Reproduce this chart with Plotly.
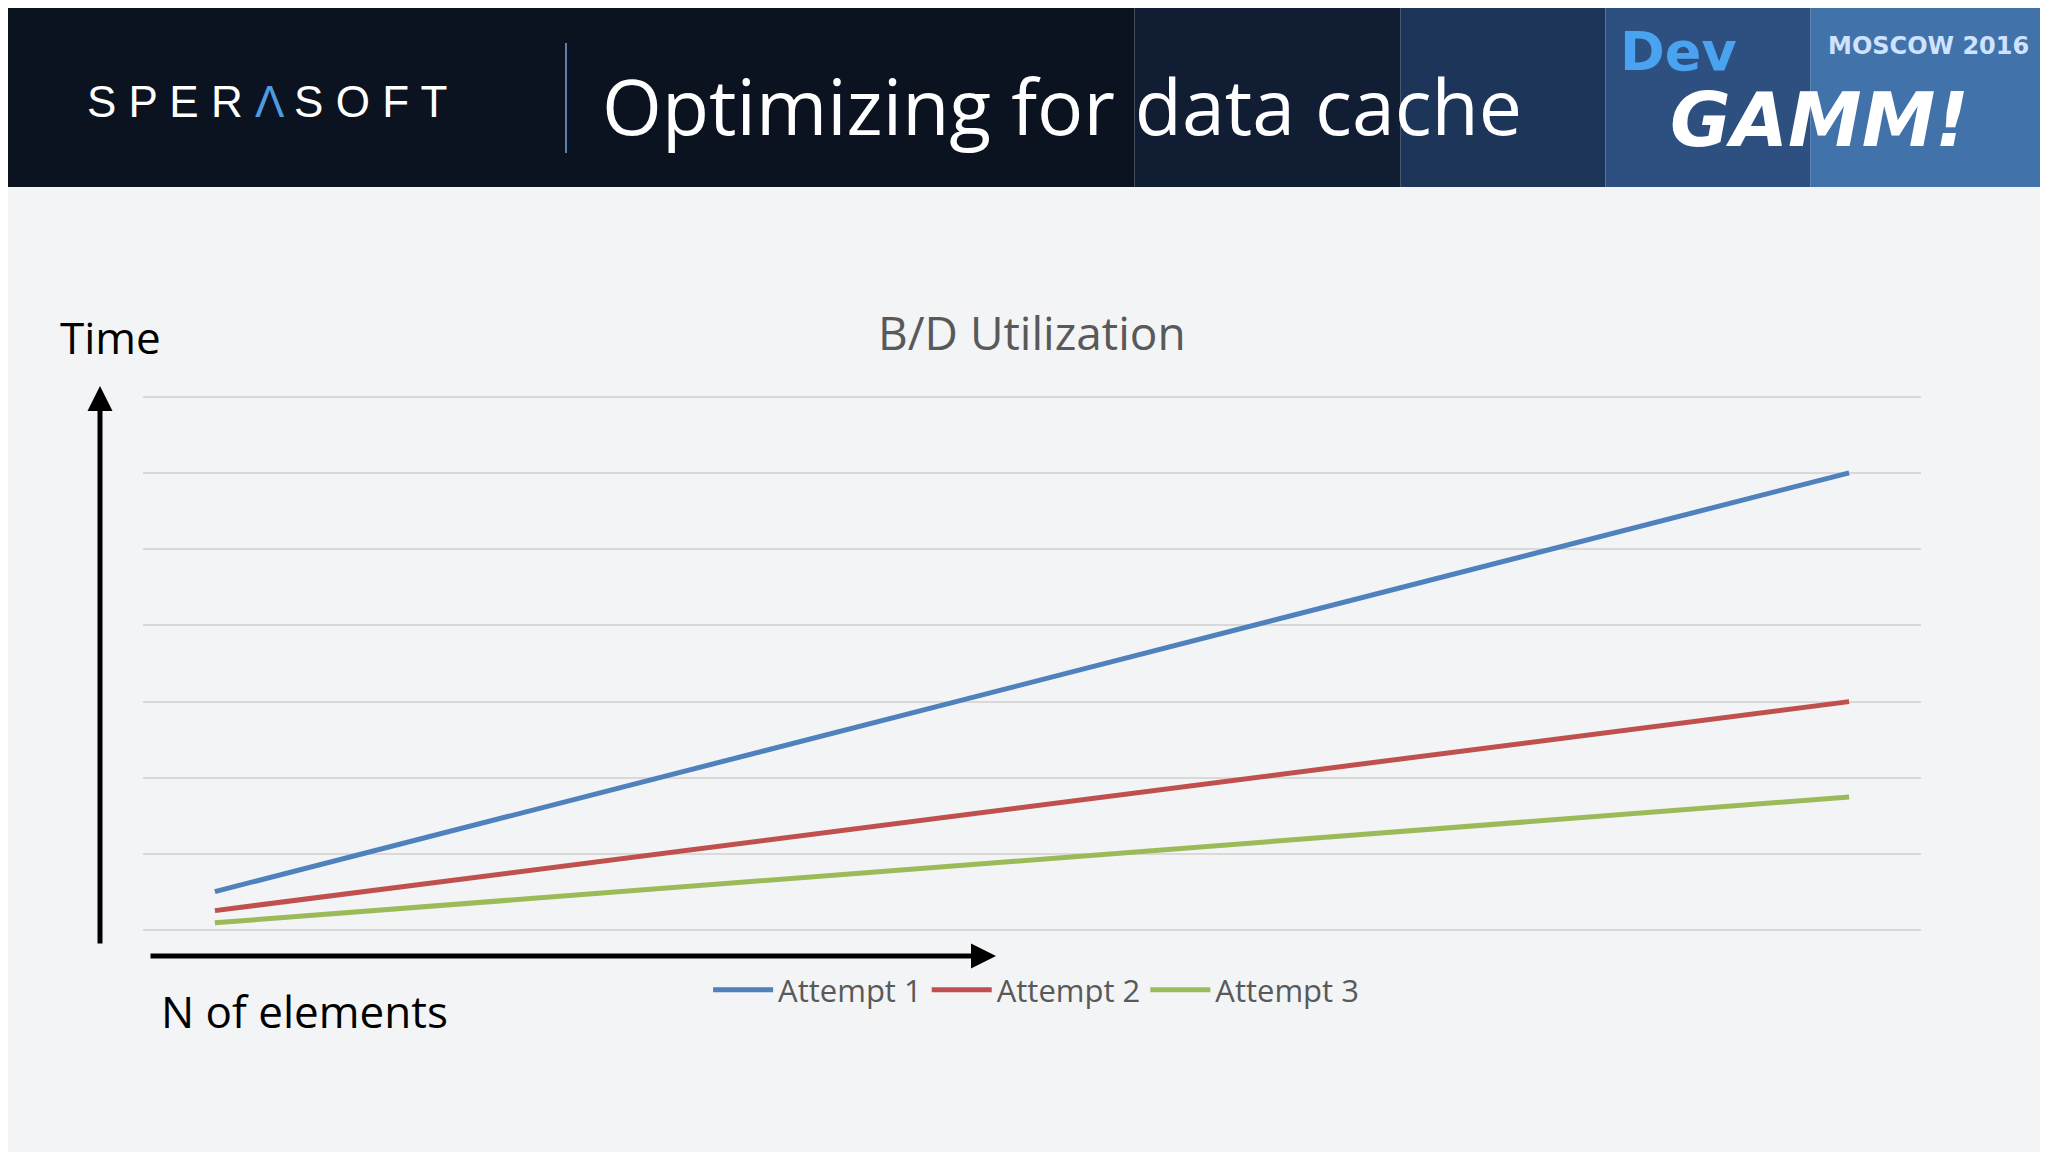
import plotly.graph_objects as go

# data (two endpoints per attempt, arbitrary units)
n_elements = [0, 1]
attempt_1 = [0.51, 6.0]
attempt_2 = [0.26, 3.0]
attempt_3 = [0.10, 1.75]
series_names = ["Attempt 1", "Attempt 2", "Attempt 3"]
series_colors = ["#4f81bd", "#c0504d", "#9bbb59"]

W, H = 2048, 1152


def px(x, y):
    # canvas pixel -> paper coords (margins are zero)
    return x / W, 1 - y / H


fig = go.Figure()
for name, vals, col in zip(series_names, [attempt_1, attempt_2, attempt_3], series_colors):
    fig.add_trace(go.Scatter(x=n_elements, y=vals, name=name, mode="lines",
                             line=dict(color=col, width=5)))

# header band, stepped dark navy -> blue
band = [("#0b1220", 0, 0.55), ("#111d33", 0.55, 0.68), ("#1d3558", 0.68, 0.78),
        ("#2d5080", 0.78, 0.88), ("#4272aa", 0.88, 1)]
shapes = [dict(type="rect", xref="paper", yref="paper", x0=a, x1=b, y0=px(0, 179)[1], y1=1,
               fillcolor=c, line_width=0, layer="below") for c, a, b in band]
shapes.append(dict(type="line", xref="paper", yref="paper", x0=px(558, 0)[0], x1=px(558, 0)[0],
                   y0=px(0, 35)[1], y1=px(0, 145)[1], line=dict(color="#5a7fa8", width=2)))

annotations = [
    dict(x=px(77, 0)[0], y=px(0, 94)[1], text="S P E R <span style='color:#4f9be0'>Λ</span> S O F T",
         font=dict(size=44, color="white", family="Liberation Sans"), xanchor="left"),
    dict(x=px(592, 0)[0], y=px(0, 98)[1], text="Optimizing for data cache",
         font=dict(size=77, color="white", family="Open Sans"), xanchor="left"),
    dict(x=px(1610, 0)[0], y=px(0, 44)[1], text="<b>Dev</b>",
         font=dict(size=54, color="#4aa3f0", family="DejaVu Sans"), xanchor="left"),
    dict(x=px(1818, 0)[0], y=px(0, 38)[1], text="<b>MOSCOW 2016</b>",
         font=dict(size=24, color="#cfe3ff", family="DejaVu Sans"), xanchor="left"),
    dict(x=px(1660, 0)[0], y=px(0, 112)[1], text="<b><i>GAMM!</i></b>",
         font=dict(size=74, color="white", family="DejaVu Sans"), xanchor="left"),
    dict(x=px(50, 0)[0], y=px(0, 329)[1], text="Time",
         font=dict(size=44, color="black", family="Open Sans"), xanchor="left"),
    dict(x=px(151, 0)[0], y=px(0, 1003)[1], text="N of elements",
         font=dict(size=44, color="black", family="Open Sans"), xanchor="left"),
    dict(x=px(1024, 0)[0], y=px(0, 324)[1], text="B/D Utilization",
         font=dict(size=46, color="#595959", family="Open Sans"), xanchor="center"),
    # arrows
    dict(x=px(92, 0)[0], y=px(0, 378)[1], ax=0, ay=559, text="", showarrow=True,
         arrowhead=2, arrowsize=1, arrowwidth=5, arrowcolor="black"),
    dict(x=px(988, 0)[0], y=px(0, 948)[1], ax=-847, ay=0, text="", showarrow=True,
         arrowhead=2, arrowsize=1, arrowwidth=5, arrowcolor="black"),
]
for a in annotations:
    a.setdefault("xref", "paper")
    a.setdefault("yref", "paper")
    a.setdefault("showarrow", False)
    a.setdefault("yanchor", "middle")

fig.update_layout(
    width=W, height=H,
    margin=dict(l=0, r=0, t=0, b=0),
    paper_bgcolor="#f3f4f6", plot_bgcolor="rgba(0,0,0,0)",
    shapes=shapes, annotations=annotations,
    xaxis=dict(domain=[135 / W, 1913 / W], range=[-0.044, 1.044], visible=False),
    yaxis=dict(domain=[1 - 924 / H, 1 - 387 / H], range=[-0.02, 7.02], tickvals=list(range(8)),
               showgrid=True, gridcolor="#d9d9d9", gridwidth=2,
               showticklabels=False, zeroline=False, showline=False),
    legend=dict(orientation="h", x=0.502, xanchor="center", y=1 - 982 / H, yanchor="middle",
                font=dict(size=31, color="#595959", family="Open Sans"),
                itemwidth=60, bgcolor="rgba(0,0,0,0)"),
)

fig.write_html("out.html")
